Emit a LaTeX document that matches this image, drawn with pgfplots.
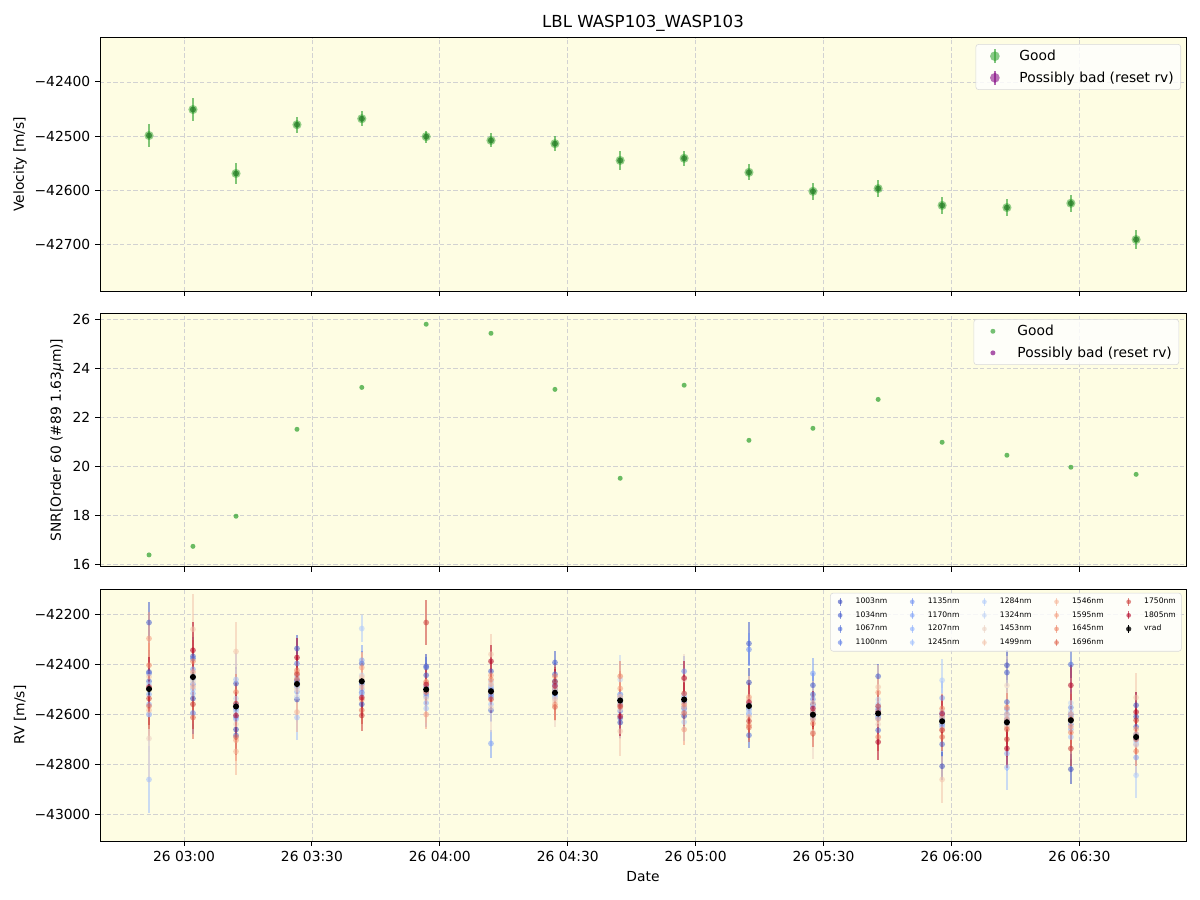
\documentclass[border=0pt]{standalone}
\usepackage{pgfplots}
\usepackage{pgfplotstable}
\pgfplotsset{compat=1.18}
\usepackage{fontspec}
\setmainfont{DejaVu Sans}

\definecolor{bgy}{RGB}{254,253,227}
\definecolor{mplgreen}{RGB}{44,160,44}
\definecolor{mplpurple}{RGB}{128,0,128}
\definecolor{c1}{RGB}{59,76,192}
\definecolor{c2}{RGB}{70,93,207}
\definecolor{c3}{RGB}{80,110,218}
\definecolor{c4}{RGB}{97,128,233}
\definecolor{c5}{RGB}{112,145,243}
\definecolor{c6}{RGB}{126,161,248}
\definecolor{c7}{RGB}{142,176,254}
\definecolor{c8}{RGB}{160,192,255}
\definecolor{c9}{RGB}{176,203,251}
\definecolor{c10}{RGB}{193,212,245}
\definecolor{c11}{RGB}{236,211,197}
\definecolor{c12}{RGB}{243,198,174}
\definecolor{c13}{RGB}{246,181,152}
\definecolor{c14}{RGB}{245,158,127}
\definecolor{c15}{RGB}{238,133,103}
\definecolor{c16}{RGB}{224,103,81}
\definecolor{c17}{RGB}{203,61,56}
\definecolor{c18}{RGB}{180,4,38}

\pgfplotstableread{
x v e snr
-8.2 -42499 22 16.38
2.1 -42451 21 16.73
12.2 -42569 19 17.96
26.5 -42479 15 21.51
41.7 -42468 14 23.22
56.8 -42501 11 25.80
72.0 -42508 13 25.43
87.0 -42514 14 23.14
102.3 -42545 17 19.51
117.3 -42541 14 23.31
132.5 -42567 15 21.06
147.5 -42602 16 21.55
162.8 -42597 16 22.73
177.8 -42628 15 20.98
193.0 -42632 16 20.45
208.0 -42624 16 19.96
223.3 -42691 17 19.67
}\vel

\pgfplotstableread{
x y1 y2 y3 y4 y5 y6 y7 y8 y9 y10 y11 y12 y13 y14 y15 y16 y17 y18 e1 e2 e3 e4 e5 e6 e7 e8 e9 e10 e11 e12 e13 e14 e15 e16 e17 e18
-8.2 -42431 -42233 -42468 -42437 -42601 -42520 -42560 -42861 -42480 -42600 -42697 -42450 -42584 -42297 -42404 -42567 -42537 -42491 90 83 83 90 105 105 105 135 135 150 180 150 120 105 90 90 105 120
2.1 -42537 -42368 -42377 -42595 -42480 -42420 -42517 -42500 -42460 -42440 -42470 -42260 -42490 -42431 -42388 -42613 -42560 -42344 84 77 77 84 98 98 98 126 126 140 168 140 112 98 84 84 98 112
12.2 -42661 -42477 -42684 -42611 -42580 -42560 -42620 -42461 -42590 -42537 -42640 -42349 -42749 -42704 -42511 -42691 -42557 -42605 72 66 66 72 84 84 84 108 108 120 144 120 96 84 72 72 84 96
26.5 -42541 -42337 -42464 -42397 -42470 -42490 -42510 -42613 -42450 -42530 -42501 -42480 -42591 -42435 -42424 -42460 -42440 -42373 60 55 55 60 70 70 70 90 90 100 120 100 80 70 60 60 70 80
41.7 -42560 -42397 -42513 -42480 -42470 -42384 -42500 -42520 -42257 -42444 -42460 -42450 -42491 -42413 -42541 -42584 -42605 -42533 54 50 50 54 63 63 63 81 55 90 108 90 72 63 54 54 63 72
56.8 -42408 -42444 -42413 -42490 -42520 -42530 -42555 -42577 -42500 -42510 -42537 -42480 -42470 -42601 -42471 -42511 -42233 -42481 48 44 44 48 56 56 56 72 72 80 96 80 64 56 48 48 90 64
72.0 -42500 -42428 -42584 -42520 -42530 -42717 -42490 -42560 -42470 -42484 -42573 -42360 -42480 -42444 -42461 -42510 -42540 -42388 48 44 44 48 56 56 56 72 72 80 96 80 64 56 48 48 56 64
87.0 -42468 -42393 -42440 -42500 -42480 -42520 -42530 -42510 -42490 -42537 -42550 -42540 -42500 -42561 -42448 -42571 -42470 -42487 51 47 47 51 60 60 60 77 77 85 102 85 68 60 51 51 60 68
102.3 -42633 -42615 -42521 -42587 -42540 -42560 -42530 -42550 -42520 -42461 -42580 -42668 -42530 -42497 -42448 -42564 -42570 -42608 60 55 55 60 70 70 70 90 90 100 120 100 80 70 60 60 70 80
117.3 -42607 -42540 -42577 -42550 -42428 -42570 -42530 -42590 -42631 -42520 -42461 -42540 -42570 -42661 -42560 -42595 -42517 -42455 51 47 47 51 60 60 60 77 77 85 102 85 68 60 51 51 60 68
132.5 -42473 -42317 -42684 -42560 -42341 -42580 -42597 -42600 -42570 -42590 -42560 -42540 -42610 -42531 -42644 -42653 -42627 -42551 57 85 52 57 67 67 67 86 86 95 114 95 76 67 57 57 67 76
147.5 -42560 -42484 -42521 -42590 -42540 -42437 -42610 -42570 -42620 -42600 -42671 -42555 -42590 -42620 -42637 -42677 -42600 -42577 54 50 50 54 63 63 63 81 81 90 108 90 72 63 54 54 63 72
162.8 -42590 -42448 -42664 -42580 -42610 -42617 -42570 -42600 -42560 -42541 -42640 -42491 -42620 -42513 -42691 -42590 -42568 -42711 54 50 50 54 63 63 63 81 81 90 108 90 72 63 54 54 63 72
177.8 -42808 -42600 -42720 -42640 -42620 -42535 -42650 -42610 -42464 -42590 -42630 -42861 -42660 -42610 -42577 -42691 -42664 -42597 57 52 52 57 67 67 67 86 86 95 114 95 76 67 57 57 67 76
193.0 -42404 -42433 -42551 -42600 -42620 -42580 -42757 -42813 -42640 -42610 -42485 -42600 -42650 -42620 -42573 -42660 -42700 -42737 60 55 55 60 70 70 70 90 90 100 120 100 80 70 60 60 70 80
208.0 -42820 -42600 -42401 -42640 -42573 -42610 -42660 -42691 -42590 -42555 -42630 -42620 -42600 -42650 -42673 -42620 -42737 -42484 60 55 55 60 70 70 70 90 90 100 120 100 80 70 60 60 70 80
223.3 -42610 -42564 -42650 -42680 -42700 -42773 -42720 -42690 -42844 -42710 -42724 -42533 -42680 -42660 -42748 -42700 -42624 -42591 60 55 55 60 70 70 70 90 90 100 120 100 80 70 60 60 70 80
}\lbl

\newcommand{\errimg}[1]{%
  \path[draw=none,fill=none] (0bp,0bp) -- (26.4bp,0bp);
  \draw[#1, line width=1.3bp, draw opacity=0.6] (10.7bp,-5bp)--(10.7bp,5bp);
  \fill[draw=none, fill=#1, fill opacity=0.55] (10.7bp,0bp) circle (3.5bp);}
\newcommand{\dotimg}[1]{%
  \path[draw=none,fill=none] (0bp,0bp) -- (26.4bp,0bp);
  \fill[draw=none, fill=#1, fill opacity=0.65] (10.7bp,0bp) circle (1.8bp);}
\newcommand{\smallimg}[1]{%
  \path[draw=none,fill=none] (0bp,0bp) -- (14.2bp,0bp);
  \draw[#1, line width=0.9bp, draw opacity=0.6] (5bp,-2.8bp)--(5bp,2.8bp);
  \fill[draw=none, fill=#1, fill opacity=0.6] (5bp,0bp) circle (1.7bp);}

\pgfplotsset{
  panel/.style={
    scale only axis, width=781.92bp, anchor=north west,
    xmin=-19.7, xmax=235,
    axis background/.style={fill=bgy},
    grid=major,
    major grid style={gray!35, dash pattern=on 3.2bp off 1.6bp, line width=0.55bp},
    tick align=outside, tick pos=left,
    major tick length=3.5bp,
    tick style={black, line width=0.6bp},
    axis line style={line width=0.6bp},
    xtick={0,30,...,210},
    tick label style={font=\fontsize{10}{12}\selectfont},
    label style={font=\fontsize{10}{12}\selectfont},
    /pgf/number format/assume math mode=true,
    scaled ticks=false,
    legend cell align=left,
  },
}

\begin{document}
\begin{tikzpicture}
\useasboundingbox (0,0) rectangle (864bp,-648bp);

% ---------- top panel ----------
\begin{axis}[panel, name=top, at={(72bp,-27bp)}, height=182.5bp,
  ymin=-42786, ymax=-42318,
  ytick={-42700,-42600,-42500,-42400},
  yticklabels={−42700,−42600,−42500,−42400},
  xticklabels={},
  ylabel={Velocity [m/s]},
  ylabel style={at={(axis description cs:-0.0737,0.5)}, anchor=center},
  legend style={at={(axis description cs:0.9954,0.974)}, anchor=north east,
    draw=gray!30, rounded corners=2pt, fill=white, fill opacity=0.8, text opacity=1,
    font=\fontsize{10}{12}\selectfont, inner xsep=3bp, inner ysep=2bp, row sep=2.5bp},
]
\addplot[only marks, mark=*, mark size=3.3bp, forget plot,
  mark options={fill=mplgreen, draw=mplgreen, fill opacity=0.5, draw opacity=0},
  error bars/.cd, y dir=both, y explicit, error mark=none,
  error bar style={mplgreen, line width=1.4bp, draw opacity=0.6}]
  table[x=x, y=v, y error=e]{\vel};
\addplot[only marks, mark=*, mark size=2.2bp, forget plot,
  mark options={fill=mplgreen!75!black, draw=mplgreen, fill opacity=0.7, draw opacity=0}]
  table[x=x, y=v]{\vel};
\addlegendimage{legend image code/.code={\errimg{mplgreen}}}
\addlegendentry{Good}
\addlegendimage{legend image code/.code={\errimg{mplpurple}}}
\addlegendentry{Possibly bad (reset rv)}
\end{axis}
\node[font=\fontsize{12}{14}\selectfont, anchor=center] at ([yshift=10.4bp]top.north) {LBL WASP103\_WASP103};

% ---------- middle panel ----------
\begin{axis}[panel, at={(72bp,-225.6bp)}, height=182.4bp,
  ymin=15.9, ymax=26.245,
  ytick={16,18,20,22,24,26},
  xticklabels={},
  ylabel={SNR[Order 60 (\#89 1.63{\itshape μ}m)]},
  ylabel style={at={(axis description cs:-0.0396,0.5)}, anchor=center},
  legend style={at={(axis description cs:0.9936,0.977)}, anchor=north east,
    draw=gray!30, rounded corners=2pt, fill=white, fill opacity=0.8, text opacity=1,
    font=\fontsize{10}{12}\selectfont, inner xsep=3bp, inner ysep=2bp, row sep=2.5bp},
]
\addplot[only marks, mark=*, mark size=1.8bp, forget plot,
  mark options={fill=mplgreen, draw=mplgreen, fill opacity=0.7, draw opacity=0}]
  table[x=x, y=snr]{\vel};
\addlegendimage{legend image code/.code={\dotimg{mplgreen}}}
\addlegendentry{Good}
\addlegendimage{legend image code/.code={\dotimg{mplpurple}}}
\addlegendentry{Possibly bad (reset rv)}
\end{axis}

% ---------- bottom panel ----------
\begin{axis}[panel, at={(72bp,-424.1bp)}, height=181.4bp,
  ymin=-43107, ymax=-42099,
  ytick={-43000,-42800,-42600,-42400,-42200},
  yticklabels={−43000,−42800,−42600,−42400,−42200},
  xticklabels={26 03:00,26 03:30,26 04:00,26 04:30,26 05:00,26 05:30,26 06:00,26 06:30},
  xlabel={Date},
  xlabel style={at={(axis description cs:0.5,-0.143)}, anchor=center},
  ylabel={RV [m/s]},
  ylabel style={at={(axis description cs:-0.0737,0.5)}, anchor=center},
  legend columns=5,
  legend style={at={(axis description cs:0.996,0.985)}, anchor=north east,
    draw=gray!30, rounded corners=2pt, fill=white, fill opacity=0.8, text opacity=1,
    font=\fontsize{5.5}{6.5}\selectfont, inner xsep=2bp, inner ysep=1.5bp, row sep=0.2bp,
    /tikz/every even column/.append style={column sep=11bp}},
]
\pgfplotsinvokeforeach{1,...,18}{
  \addplot[only marks, mark=*, mark size=2.1bp, forget plot,
    mark options={fill=c#1, draw=c#1, fill opacity=0.55, draw opacity=0},
    error bars/.cd, y dir=both, y explicit, error mark=none,
    error bar style={c#1, line width=1.4bp, draw opacity=0.55}]
    table[x=x, y=y#1, y error=e#1]{\lbl};
}
\addplot[only marks, mark=*, mark size=2.2bp, black, forget plot,
  mark options={fill=black, draw=black, draw opacity=0},
  error bars/.cd, y dir=both, y explicit, error mark=none,
  error bar style={black, line width=1.1bp}]
  table[x=x, y=v, y error=e]{\vel};
% legend (row-major order reproducing the column-wise layout)
\addlegendimage{legend image code/.code={\smallimg{c1}}}\addlegendentry{1003nm}
\addlegendimage{legend image code/.code={\smallimg{c5}}}\addlegendentry{1135nm}
\addlegendimage{legend image code/.code={\smallimg{c9}}}\addlegendentry{1284nm}
\addlegendimage{legend image code/.code={\smallimg{c13}}}\addlegendentry{1546nm}
\addlegendimage{legend image code/.code={\smallimg{c17}}}\addlegendentry{1750nm}
\addlegendimage{legend image code/.code={\smallimg{c2}}}\addlegendentry{1034nm}
\addlegendimage{legend image code/.code={\smallimg{c6}}}\addlegendentry{1170nm}
\addlegendimage{legend image code/.code={\smallimg{c10}}}\addlegendentry{1324nm}
\addlegendimage{legend image code/.code={\smallimg{c14}}}\addlegendentry{1595nm}
\addlegendimage{legend image code/.code={\smallimg{c18}}}\addlegendentry{1805nm}
\addlegendimage{legend image code/.code={\smallimg{c3}}}\addlegendentry{1067nm}
\addlegendimage{legend image code/.code={\smallimg{c7}}}\addlegendentry{1207nm}
\addlegendimage{legend image code/.code={\smallimg{c11}}}\addlegendentry{1453nm}
\addlegendimage{legend image code/.code={\smallimg{c15}}}\addlegendentry{1645nm}
\addlegendimage{legend image code/.code={
    \path[draw=none,fill=none] (0bp,0bp) -- (14.2bp,0bp);
    \draw[black, line width=0.9bp] (5bp,-2.8bp)--(5bp,2.8bp);
    \fill[draw=none, fill=black] (5bp,0bp) circle (1.9bp);}}\addlegendentry{vrad}
\addlegendimage{legend image code/.code={\smallimg{c4}}}\addlegendentry{1100nm}
\addlegendimage{legend image code/.code={\smallimg{c8}}}\addlegendentry{1245nm}
\addlegendimage{legend image code/.code={\smallimg{c12}}}\addlegendentry{1499nm}
\addlegendimage{legend image code/.code={\smallimg{c16}}}\addlegendentry{1696nm}
\end{axis}
\end{tikzpicture}
\end{document}
